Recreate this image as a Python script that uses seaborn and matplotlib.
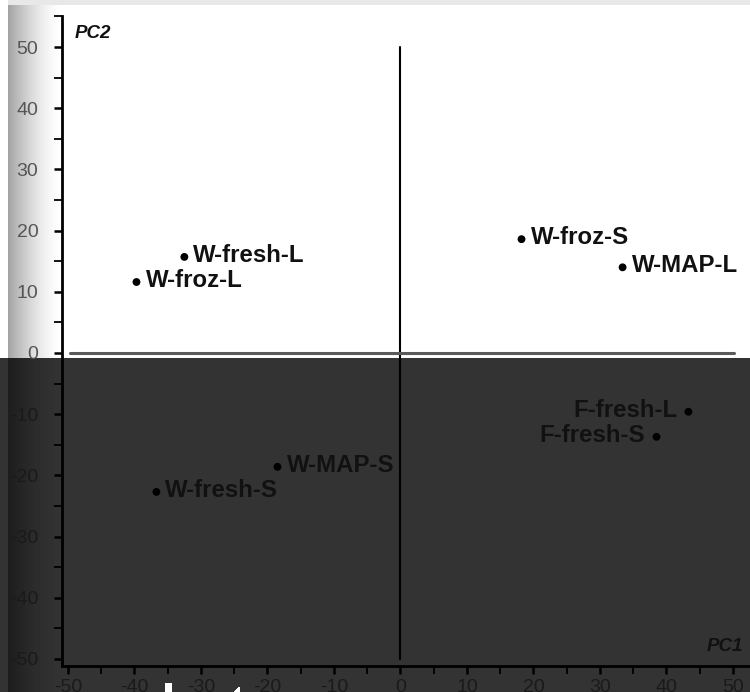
import numpy as np
import pandas as pd
import matplotlib
matplotlib.use("Agg")
import matplotlib.pyplot as plt
from matplotlib.ticker import MultipleLocator
import seaborn as sns

# PCA scores per sample
samples = ["W-fresh-L", "W-froz-L", "W-froz-S", "W-MAP-L",
           "F-fresh-L", "F-fresh-S", "W-MAP-S", "W-fresh-S"]
pc1 = [-32.5, -39.7, 18.2, 33.4, 43.3, 38.5, -18.5, -36.7]
pc2 = [15.7, 11.6, 18.6, 14.0, -9.6, -13.7, -18.6, -22.7]
label_side = ["right", "right", "right", "right", "left", "left", "right", "right"]

x_ticks = list(range(-50, 51, 10))
y_ticks = list(range(-50, 51, 10))

sns.set_theme(style="white")
plt.rcParams["font.family"] = ["Liberation Sans", "DejaVu Sans"]

W, H = 750, 692
fig = plt.figure(figsize=(W / 100, H / 100), dpi=100)

# scanned-page backdrop: grey top strip, shaded left margin, darkened lower half
split = 358
bg = np.ones((H, W))
cols = np.arange(W)
t = np.clip((cols - 8) / 54.0, 0, 1)
band = (cols >= 8) & (cols < 62)
light = 1 - 0.36 * (1 - t) ** 1.6
bg[:split, band] = light[band]
bg[:5, 8:] = 0.91
dark_row = np.full(W, 0.2)
dark_band = 0.2 - 0.085 * (1 - t) ** 1.6
dark_row[band] = dark_band[band]
bg[split:, :] = dark_row
bg[683:, 165:172] = 1.0
for k in range(5):
    bg[687 + k, 238 - k:240] = 1.0

bax = fig.add_axes([0, 0, 1, 1], zorder=0)
bax.imshow(bg, cmap="gray", vmin=0, vmax=1, aspect="auto", interpolation="nearest")
bax.axis("off")

ax = fig.add_axes([62 / W, 26 / H, 688 / W, 650 / H], zorder=1)
ax.patch.set_alpha(0)

df = pd.DataFrame({"sample": samples, "PC1": pc1, "PC2": pc2, "side": label_side})

# quadrant axes through the origin
ax.plot([0, 0], [-50, 50], color="black", lw=1.5, zorder=2)
ax.plot([-49.7, 50.2], [0, 0], color="#5a5a5a", lw=2.2, zorder=2)

sns.scatterplot(data=df, x="PC1", y="PC2", ax=ax, color="black", s=32,
                edgecolor="none", legend=False, zorder=3)

for _, row in df.iterrows():
    if row["side"] == "right":
        ax.annotate(row["sample"], (row["PC1"], row["PC2"]), xytext=(6.5, 1),
                    textcoords="offset points", ha="left", va="center",
                    fontsize=17.3, fontweight="bold", color="#111111")
    else:
        ax.annotate(row["sample"], (row["PC1"], row["PC2"]), xytext=(-8, 1),
                    textcoords="offset points", ha="right", va="center",
                    fontsize=17.3, fontweight="bold", color="#111111")

ax.set_xlim(-50.9, 52.56)
ax.set_ylim(-51.15, 55.07)
ax.set_xticks(x_ticks)
ax.set_yticks(y_ticks)
ax.set_xticklabels([str(v) for v in x_ticks])
ax.set_yticklabels([str(v) for v in y_ticks])
ax.xaxis.set_minor_locator(MultipleLocator(5))
ax.yaxis.set_minor_locator(MultipleLocator(5))
ax.set_xlabel("")
ax.set_ylabel("")

for side in ["top", "right"]:
    ax.spines[side].set_visible(False)
for side in ["left", "bottom"]:
    ax.spines[side].set_color("black")
    ax.spines[side].set_linewidth(2)

ax.tick_params(which="both", bottom=True, left=True, direction="out",
               color="black", length=6)
ax.tick_params(which="major", width=1.8)
ax.tick_params(which="minor", width=1.3)
ax.tick_params(axis="y", which="major", pad=11, labelsize=14)
ax.tick_params(axis="x", which="major", pad=3, labelsize=14)

for lab, v in zip(ax.get_yticklabels(), y_ticks):
    lab.set_color("#555555" if v >= 0 else "#1a1a1a")
for lab in ax.get_xticklabels():
    lab.set_color("#1a1a1a")

fig.text(75 / W, 1 - 33.5 / H, "PC2", fontsize=13.5, fontweight="bold",
         style="italic", color="#111111", ha="left", va="center")
fig.text(743 / W, 1 - 646.5 / H, "PC1", fontsize=13.5, fontweight="bold",
         style="italic", color="#111111", ha="right", va="center")

fig.savefig("out.png", dpi=100)
